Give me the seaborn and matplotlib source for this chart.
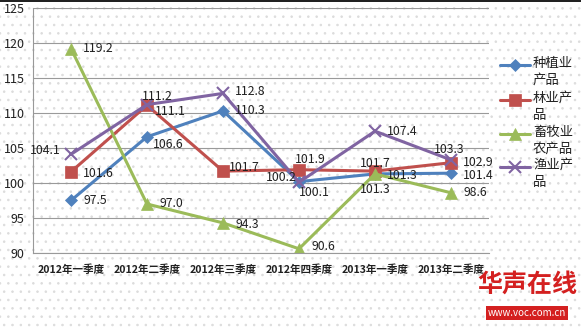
import matplotlib
matplotlib.use("Agg")
import matplotlib.pyplot as plt
import seaborn as sns
import pandas as pd
from matplotlib.lines import Line2D
from matplotlib.patches import Rectangle

categories = ["2012年一季度", "2012年二季度", "2012年三季度", "2012年四季度", "2013年一季度", "2013年二季度"]
series_names = ["种植业产品", "林业产品", "畜牧业农产品", "渔业产品"]
legend_labels = ["种植业\n产品", "林业产\n品", "畜牧业\n农产品", "渔业产\n品"]
crop = [97.5, 106.6, 110.3, 100.2, 101.3, 101.4]
forest = [101.6, 111.1, 101.7, 101.9, 101.7, 102.9]
livestock = [119.2, 97.0, 94.3, 90.6, 101.3, 98.6]
fishery = [104.1, 111.2, 112.8, 100.1, 107.4, 103.3]
yticks = [90, 95, 100, 105, 110, 115, 120, 125]

values = [crop, forest, livestock, fishery]
colors = ["#4F81BD", "#C0504D", "#9BBB59", "#8064A2"]
markers = ["D", "s", "^", "x"]
msizes = [6, 8, 8, 8]

# label offsets in pixels (dx, dy, ha)
offsets = [
    [(12, 0, "left"), (6, -8, "left"), (12, 0, "left"), (-2, 4, "right"), (12, -2, "left"), (12, -2, "left")],
    [(12, -2, "left"), (8, -6, "left"), (6, 4, "left"), (-4, 10, "left"), (0, 8, "center"), (12, 0, "left")],
    [(12, 0, "left"), (12, 0, "left"), (12, -2, "left"), (12, 2, "left"), (0, -16, "center"), (12, 0, "left")],
    [(-10, 4, "right"), (10, 8, "center"), (12, 2, "left"), (15, -10, "center"), (12, 0, "left"), (-2, 10, "center")],
]

rows = []
for name, vals in zip(series_names, values):
    for i, v in enumerate(vals):
        rows.append({"series": name, "x": i, "value": v})
df = pd.DataFrame(rows)

sns.set_theme(style="white")
plt.rcParams["font.family"] = ["Noto Sans CJK SC", "DejaVu Sans"]
plt.rcParams["hatch.color"] = "#dcdcdc"
plt.rcParams["hatch.linewidth"] = 0.6

W, H = 581, 327
fig = plt.figure(figsize=(W / 100, H / 100), dpi=100)
fig.patch.set_facecolor("white")
bg = Rectangle((0, 0), 1, 1, transform=fig.transFigure, facecolor="white",
               edgecolor="#dcdcdc", hatch="..", linewidth=0, zorder=-10)
fig.add_artist(bg)

ax = fig.add_axes([33 / W, 1 - 253 / H, (489 - 33) / W, (253 - 8) / H])
ax.set_facecolor("none")

for name, col, mk, ms in zip(series_names, colors, markers, msizes):
    sub = df[df["series"] == name]
    sns.lineplot(data=sub, x="x", y="value", ax=ax, color=col, linewidth=2.2,
                 marker=mk, markersize=ms, markeredgecolor=col,
                 markeredgewidth=1.5 if mk == "x" else 0.5, legend=False)

px = 0.72
for vals, offs in zip(values, offsets):
    for i, (v, (dx, dy, ha)) in enumerate(zip(vals, offs)):
        ax.annotate(f"{v:.1f}", (i, v), xytext=(dx * px, dy * px), textcoords="offset points",
                    ha=ha, va="center", fontsize=8.8, color="#202020")

ax.set_xlim(-0.5, 5.5)
ax.set_ylim(90, 125)
ax.set_yticks(yticks)
ax.set_yticklabels([str(t) for t in yticks], fontsize=9.0, color="#202020")
ax.set_xticks(range(len(categories)))
ax.set_xticklabels(categories, fontsize=7.6, fontweight="bold", color="#202020")
ax.set_xticks([k - 0.5 for k in range(len(categories) + 1)], minor=True)
ax.tick_params(axis="x", which="major", length=0, pad=8)
ax.tick_params(axis="x", which="minor", length=4, color="#999999", width=0.8)
ax.tick_params(axis="y", length=3, color="#999999", pad=3)
ax.set_xlabel("")
ax.set_ylabel("")
ax.grid(axis="y", color="#9a9a9a", linewidth=0.8)
for s in ["top", "right"]:
    ax.spines[s].set_visible(False)
for s in ["left", "bottom"]:
    ax.spines[s].set_color("#999999")
    ax.spines[s].set_linewidth(0.8)

# legend (manual, handle on first text line)
leg_y = [65, 100, 134, 167]
for lab, col, mk, ms, y in zip(legend_labels, colors, markers, msizes, leg_y):
    yf = 1 - y / H
    fig.add_artist(Line2D([500 / W, 530 / W], [yf, yf], transform=fig.transFigure,
                          color=col, linewidth=2.2))
    fig.add_artist(Line2D([515 / W], [yf], transform=fig.transFigure, color=col,
                          marker=mk, markersize=ms, markeredgecolor=col,
                          markeredgewidth=1.5 if mk == "x" else 0.5))
    fig.text(533 / W, 1 - (y - 9) / H, lab, fontsize=9.6, va="top", ha="left",
             color="#202020", linespacing=1.25)

# top dark bar
fig.add_artist(Rectangle((0, 1 - 2 / H), 1, 2 / H, transform=fig.transFigure,
                         facecolor="#222222", edgecolor="none"))

# watermark
fig.text(527 / W, 1 - 285 / H, "华声在线", fontsize=18, color="#d42020",
         ha="center", va="center", fontweight="bold", style="italic")
fig.text(527 / W, 1 - 313 / H, "www.voc.com.cn", fontsize=7, color="white",
         ha="center", va="center",
         bbox=dict(boxstyle="square,pad=0.2", facecolor="#d42020", edgecolor="none"))

fig.savefig("out.png", dpi=100)
